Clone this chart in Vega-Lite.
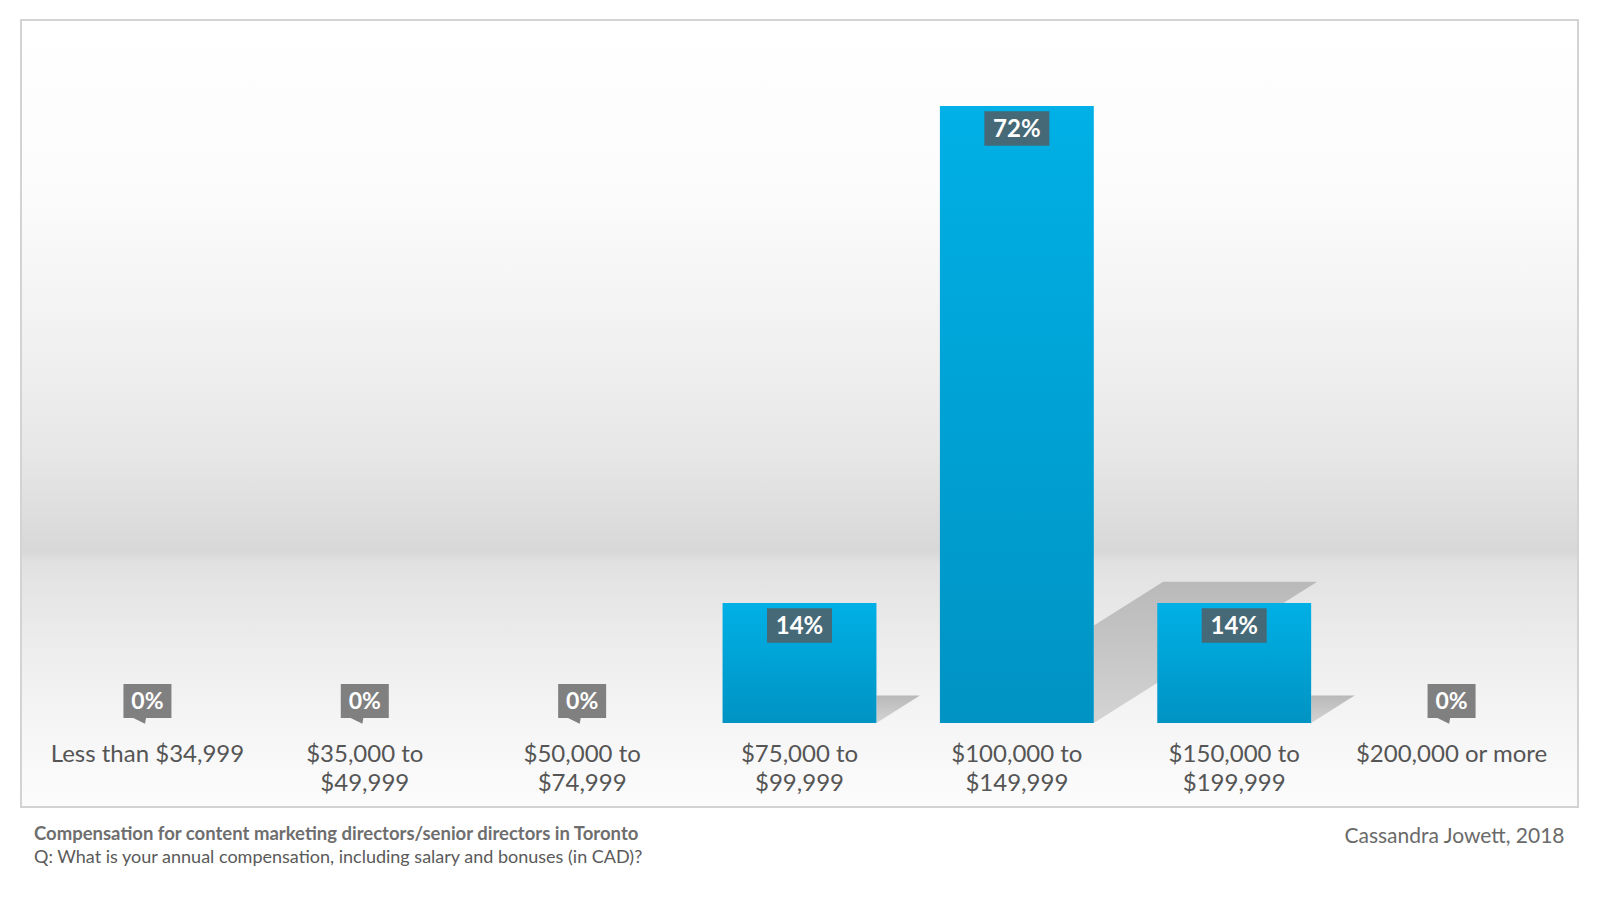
{
  "$schema": "https://vega.github.io/schema/vega-lite/v6.json",
  "width": 1557,
  "height": 787,
  "autosize": "none",
  "padding": {"left": 21, "top": 20, "right": 22, "bottom": 73},
  "title": {
    "text": "Compensation for content marketing directors/senior directors in Toronto",
    "subtitle": "Q: What is your annual compensation, including salary and bonuses (in CAD)?",
    "orient": "bottom",
    "anchor": "start",
    "frame": "group",
    "offset": -22,
    "dx": 13,
    "font": "Lato",
    "fontSize": 18.5,
    "fontWeight": "bold",
    "color": "#6e6e6e",
    "subtitleFont": "Lato",
    "subtitleFontSize": 18,
    "subtitleColor": "#5a5a5a",
    "subtitlePadding": 6
  },
  "data": {
    "values": [
      {"bracket": "Less than $34,999", "share": 0},
      {"bracket": "$35,000 to $49,999", "share": 0},
      {"bracket": "$50,000 to $74,999", "share": 0},
      {"bracket": "$75,000 to $99,999", "share": 0.14},
      {"bracket": "$100,000 to $149,999", "share": 0.72},
      {"bracket": "$150,000 to $199,999", "share": 0.14},
      {"bracket": "$200,000 or more", "share": 0}
    ]
  },
  "encoding": {
    "x": {
      "field": "bracket",
      "type": "nominal",
      "sort": null,
      "scale": {"paddingInner": 0.292, "paddingOuter": 0.2277},
      "axis": {
        "title": null,
        "ticks": false,
        "tickSize": 0,
        "domain": false,
        "labelAngle": 0,
        "labelPadding": -65,
        "labelBaseline": "top",
        "labelExpr": "split(replace(datum.label, ' to ', ' to|'), '|')",
        "labelFont": "Lato",
        "labelFontSize": 24,
        "labelLineHeight": 29,
        "labelColor": "#555555",
        "labelLimit": 0,
        "labelOverlap": false
      }
    }
  },
  "layer": [
    {
      "mark": {
        "type": "point",
        "filled": true,
        "opacity": 1,
        "strokeWidth": 0,
        "xOffset": 77,
        "fill": {
          "gradient": "linear", "x1": 0, "y1": 0, "x2": 0, "y2": 1,
          "stops": [
            {"offset": 0, "color": "#b9b9b9"},
            {"offset": 1, "color": "#d4d4d4"}
          ]
        }
      },
      "encoding": {
        "y": {"datum": 0, "type": "quantitative", "axis": null},
        "size": {
          "field": "share",
          "type": "quantitative",
          "scale": {"type": "pow", "exponent": 2, "domain": [0, 0.72], "range": [0, 1522530]},
          "legend": null
        },
        "shape": {
          "condition": {"test": "datum.share > 0.5", "value": "M0,0L0.362,-0.229L0.1124,-0.229L0,-0.158Z"},
          "value": "M0,0L0.362,-0.229L0,-0.229Z"
        }
      }
    },
    {
      "mark": {
        "type": "bar",
        "color": {
          "gradient": "linear", "x1": 0, "y1": 0, "x2": 0, "y2": 1,
          "stops": [
            {"offset": 0, "color": "#00b0e6"},
            {"offset": 1, "color": "#0093c3"}
          ]
        }
      },
      "encoding": {
        "y": {
          "field": "share",
          "type": "quantitative",
          "scale": {"domain": [-0.098, 0.8204], "nice": false, "zero": false},
          "axis": null
        },
        "y2": {"datum": 0}
      }
    },
    {
      "transform": [{"filter": "datum.share > 0"}],
      "mark": {
        "type": "point",
        "filled": true,
        "opacity": 1,
        "strokeWidth": 0,
        "color": "#466977",
        "shape": "M-1,-0.53H1V0.53H-1Z",
        "size": 4225,
        "yOffset": 22.5
      },
      "encoding": {
        "y": {"field": "share", "type": "quantitative", "axis": null}
      }
    },
    {
      "transform": [{"filter": "datum.share > 0"}],
      "mark": {
        "type": "text",
        "font": "Lato",
        "fontSize": 24,
        "fontWeight": "bold",
        "color": "#ffffff",
        "baseline": "middle",
        "yOffset": 23.5
      },
      "encoding": {
        "y": {"field": "share", "type": "quantitative", "axis": null},
        "text": {"field": "share", "type": "quantitative", "format": ".0%"}
      }
    },
    {
      "transform": [{"filter": "datum.share == 0"}],
      "mark": {
        "type": "point",
        "filled": true,
        "opacity": 1,
        "strokeWidth": 0,
        "color": "#808080",
        "shape": "M-1,-0.708H1V0.708H-0.06L-0.1,0.95L-0.59,0.708H-1Z",
        "size": 2304,
        "yOffset": -22
      },
      "encoding": {
        "y": {"field": "share", "type": "quantitative", "axis": null}
      }
    },
    {
      "transform": [{"filter": "datum.share == 0"}],
      "mark": {
        "type": "text",
        "font": "Lato",
        "fontSize": 23,
        "fontWeight": "bold",
        "color": "#ffffff",
        "baseline": "middle",
        "yOffset": -21
      },
      "encoding": {
        "y": {"field": "share", "type": "quantitative", "axis": null},
        "text": {"field": "share", "type": "quantitative", "format": ".0%"}
      }
    },
    {
      "data": {"values": [{"credit": "Cassandra Jowett, 2018"}]},
      "mark": {
        "type": "text",
        "font": "Lato",
        "fontSize": 21,
        "color": "#6a6a6a",
        "align": "right",
        "baseline": "alphabetic",
        "xOffset": 36
      },
      "encoding": {
        "x": {"datum": "$200,000 or more", "bandPosition": 1},
        "y": {"datum": -0.14, "type": "quantitative", "axis": null},
        "text": {"field": "credit"}
      }
    }
  ],
  "config": {
    "font": "Lato",
    "view": {
      "stroke": "#d3d3d3",
      "strokeWidth": 2,
      "fill": {
        "gradient": "linear", "x1": 0, "y1": 0, "x2": 0, "y2": 1,
        "stops": [
          {"offset": 0, "color": "#ffffff"},
          {"offset": 0.23, "color": "#fbfbfb"},
          {"offset": 0.42, "color": "#f0f0f0"},
          {"offset": 0.55, "color": "#e7e7e7"},
          {"offset": 0.675, "color": "#d8d8d8"},
          {"offset": 0.69, "color": "#e1e1e1"},
          {"offset": 0.79, "color": "#ececec"},
          {"offset": 0.89, "color": "#f5f5f5"},
          {"offset": 1, "color": "#fcfcfc"}
        ]
      }
    }
  }
}
